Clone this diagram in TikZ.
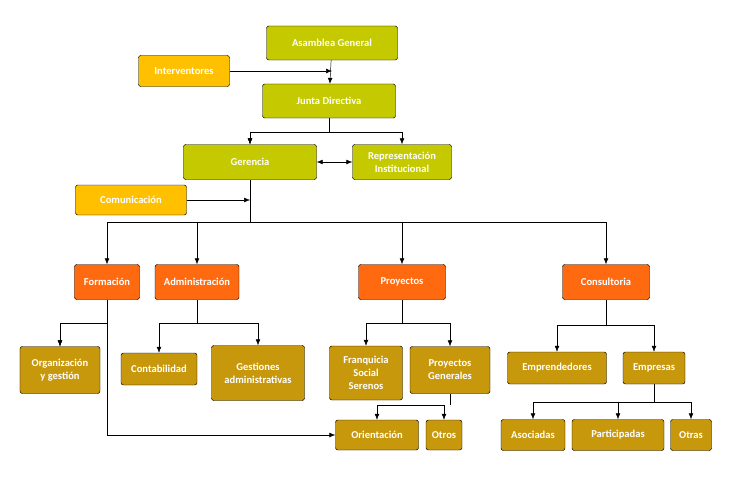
\documentclass[tikz,border=0pt]{standalone}
\usepackage{fontspec}
\setmainfont{Carlito}
\usetikzlibrary{arrows.meta}
\definecolor{oliva}{HTML}{C4C900}
\definecolor{amarillo}{HTML}{FFC000}
\definecolor{naranja}{HTML}{FF6A10}
\definecolor{dorado}{HTML}{C8980C}
\begin{document}
\begin{tikzpicture}[x=0.03cm,y=-0.03cm,>={Latex[length=5pt,width=4pt]},
  caja/.style={draw=black,rounded corners=2pt,text=white,font=\bfseries\small,align=center,inner sep=2pt}]
  \useasboundingbox (0,0) rectangle (732,478);
  \begin{scope}[every node/.style={caja}]
    \node (A) [fill=oliva,minimum width=3.93cm,minimum height=1.02cm] at (332,43) {Asamblea General};
    \node (I) [fill=amarillo,minimum width=2.73cm,minimum height=0.93cm] at (184,71) {Interventores};
    \node (J) [fill=oliva,minimum width=3.99cm,minimum height=1.02cm] at (329,101) {Junta Directiva};
    \node (G) [fill=oliva,minimum width=3.99cm,minimum height=1.05cm] at (250,162) {Gerencia};
    \node (R) [fill=oliva,minimum width=2.97cm,minimum height=1.05cm] at (402,162) {Representación\\Institucional};
    \node (C) [fill=amarillo,minimum width=3.33cm,minimum height=0.9cm] at (131,200) {Comunicación};
    \node (F) [fill=naranja,minimum width=1.95cm,minimum height=1.05cm] at (107,282) {Formación};
    \node (Ad) [fill=naranja,minimum width=2.52cm,minimum height=1.05cm] at (197,282) {Administración};
    \node (P) [fill=naranja,minimum width=2.61cm,minimum height=1.05cm] at (402,282) {Proyectos};
    \node (Co) [fill=naranja,minimum width=2.61cm,minimum height=1.05cm] at (606,282) {Consultoria};
    \node (O) [fill=dorado,minimum width=2.4cm,minimum height=1.41cm] at (60,370) {Organización\\y gestión};
    \node (Cb) [fill=dorado,minimum width=2.28cm,minimum height=0.96cm] at (159,369) {Contabilidad};
    \node (Ge) [fill=dorado,minimum width=2.79cm,minimum height=1.65cm] at (258,373) {Gestiones\\administrativas};
    \node (Fr) [fill=dorado,minimum width=2.19cm,minimum height=1.62cm] at (366,373) {Franquicia\\Social\\Serenos};
    \node (PG) [fill=dorado,minimum width=2.4cm,minimum height=1.41cm] at (450,370) {Proyectos\\Generales};
    \node (E) [fill=dorado,minimum width=2.97cm,minimum height=0.96cm] at (557,368) {Emprendedores};
    \node (Em) [fill=dorado,minimum width=1.86cm,minimum height=0.96cm] at (654,368) {Empresas};
    \node (Or) [fill=dorado,minimum width=2.49cm,minimum height=0.9cm] at (377,435) {Orientación};
    \node (Ot) [fill=dorado,minimum width=1.08cm,minimum height=0.9cm] at (444,435) {Otros};
    \node (As) [fill=dorado,minimum width=1.92cm,minimum height=0.93cm] at (533,435) {Asociadas};
    \node (Pa) [fill=dorado,minimum width=2.76cm,minimum height=0.93cm] at (618,435) {Participadas};
    \node (Os) [fill=dorado,minimum width=1.23cm,minimum height=0.93cm] at (691,435) {Otras};
  \end{scope}
  \begin{scope}[every path/.style={draw=black}]
    \draw[->] (A) -- (J);
    \draw[->] (I.east) -- (I.east -| A);
    \draw (J.south) -- (329,132) -| (G.north) [->];
    \draw[->] (329,132) -| (R.north);
    \draw[->] (250,132) -- (G.north);
    \draw[<->] (G) -- (R);
    \draw (G.south) -- (250,222);
    \draw[->] (C.east) -- (C.east -| G);
    \draw (107,222) -- (606,222);
    \foreach \n in {F,Ad,P,Co} \draw[->] (\n.north |- 0,222) -- (\n.north);
    \draw (F.south) -- (107,323) -| (O.north) [->];
    \draw[->] (60,323) -- (O.north);
    \draw[->] (F.south) -- (107,435) -- (Or.west);
    \draw (Ad.south) -- (197,323);
    \draw[->] (159,323) -- (Cb.north);
    \draw[->] (159,323) -| (Ge.north);
    \draw (P.south) -- (402,323);
    \draw[->] (366,323) -- (Fr.north);
    \draw[->] (366,323) -| (PG.north);
    \draw (PG.south) -- (450,405);
    \draw[->] (377,405) -- (Or.north);
    \draw[->] (377,405) -| (Ot.north);
    \draw (Co.south) -- (606,325);
    \draw[->] (557,325) -- (E.north);
    \draw[->] (557,325) -| (Em.north);
    \draw (Em.south) -- (654,402);
    \draw[->] (533,402) -- (As.north);
    \draw[->] (618,402) -- (Pa.north);
    \draw[->] (533,402) -| (Os.north);
  \end{scope}
\end{tikzpicture}
\end{document}
